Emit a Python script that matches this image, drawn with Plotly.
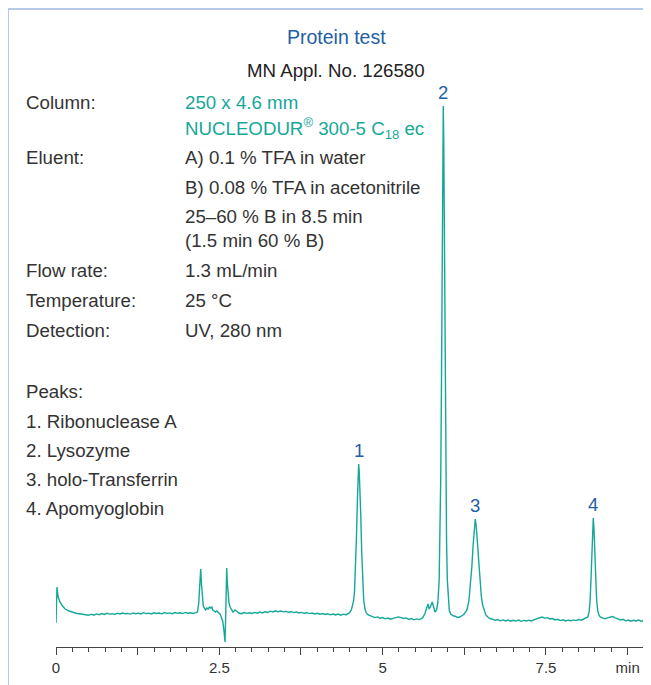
import plotly.graph_objects as go

# ------------------------------------------------------------------ data
title_text = "Protein test"
subtitle_text = "MN Appl. No. 126580"

param_labels = ["Column:", "Eluent:", "Flow rate:", "Temperature:", "Detection:"]
column_lines = ["250 x 4.6 mm", "NUCLEODUR<sup>®</sup> 300-5 C<sub>18</sub> ec"]
eluent_lines = ["A) 0.1 % TFA in water", "B) 0.08 % TFA in acetonitrile",
                "25–60 % B in 8.5 min", "(1.5 min 60 % B)"]
flow_rate = "1.3 mL/min"
temperature = "25 °C"
detection = "UV, 280 nm"

peaks_heading = "Peaks:"
peak_numbers = ["1", "2", "3", "4"]
peak_names = ["Ribonuclease A", "Lysozyme", "holo-Transferrin", "Apomyoglobin"]
peak_times = [4.633, 5.928, 6.418, 8.224]      # min
peak_heights = [151, 509, 96, 97]              # signal units

tick_values = [0, 1.25, 2.5, 3.75, 5, 6.25, 7.5, 8.75]
tick_labels = ["0", "", "2.5", "", "5", "", "7.5", "min"]

# chromatogram (time in min, signal in arbitrary units)
trace_start = [(0.000, -8), (0.006, 12), (0.015, 28), (0.03, 19), (0.06, 13),
               (0.10, 9), (0.14, 6), (0.20, 4), (0.26, 2.5), (0.32, 1.5),
               (0.38, 1.0), (0.44, 0.2), (0.50, -0.3)]
baseline_early = [(0.54, 0.8), (0.58, -0.2), (0.62, 1.1), (0.66, 0.3), (0.70, 1.4),
                  (0.74, 0.6), (0.78, 1.7), (0.82, 0.9), (0.86, 1.3), (0.90, 0.5),
                  (0.94, 1.8), (0.98, 1.0), (1.02, 2.0), (1.06, 1.2), (1.10, 1.6),
                  (1.14, 0.9), (1.18, 2.1), (1.22, 1.3), (1.26, 1.9), (1.30, 1.1),
                  (1.34, 2.3), (1.38, 1.4), (1.42, 1.8), (1.46, 1.0), (1.50, 2.2),
                  (1.54, 1.5), (1.58, 2.0), (1.62, 1.2), (1.66, 2.4), (1.70, 1.6),
                  (1.74, 2.1), (1.78, 1.3), (1.82, 2.5), (1.86, 1.7), (1.90, 2.2),
                  (1.94, 1.4), (1.98, 2.6), (2.02, 1.8), (2.06, 2.3), (2.10, 1.6),
                  (2.14, 2.4)]
void_spikes = [(2.166, 3), (2.185, 12), (2.20, 32), (2.215, 46), (2.228, 30),
               (2.24, 15), (2.255, 9), (2.27, 7), (2.29, 5), (2.31, 7), (2.33, 6),
               (2.35, 8), (2.37, 7), (2.385, 8), (2.40, 5), (2.42, 4), (2.44, 3),
               (2.46, 4), (2.49, 2), (2.51, 1), (2.53, -2), (2.552, -6), (2.57, -15),
               (2.587, -27), (2.598, 0), (2.605, 25), (2.613, 47), (2.623, 32),
               (2.635, 18), (2.648, 12), (2.665, 8), (2.686, 6), (2.71, 3),
               (2.74, 5), (2.77, 3)]
baseline_mid = [(2.80, 2.0), (2.84, 1.3), (2.88, 2.4), (2.92, 1.6), (2.96, 2.2),
                (3.00, 1.5), (3.04, 2.6), (3.08, 1.8), (3.12, 2.9), (3.16, 2.1),
                (3.20, 3.2), (3.24, 2.5), (3.28, 3.8), (3.32, 3.0), (3.36, 4.2),
                (3.40, 3.3), (3.44, 4.0), (3.48, 3.1), (3.52, 3.6), (3.56, 2.7),
                (3.60, 3.3), (3.64, 2.4), (3.68, 3.0), (3.72, 2.0), (3.76, 2.6),
                (3.80, 1.7), (3.84, 2.3), (3.88, 1.4), (3.92, 2.0), (3.96, 1.1),
                (4.00, 1.7), (4.04, 0.8), (4.08, 1.4), (4.12, 0.5), (4.16, 1.2),
                (4.20, 0.2), (4.24, 1.0), (4.28, 0.0), (4.32, 0.9), (4.36, -0.2),
                (4.40, 0.8), (4.44, 0.3), (4.48, 1.5)]
peak1_pts = [(4.50, 3), (4.52, 5), (4.54, 10), (4.555, 14), (4.57, 24), (4.585, 45),
             (4.60, 80), (4.615, 118), (4.625, 142), (4.633, 151), (4.642, 143),
             (4.652, 128), (4.665, 100), (4.68, 62), (4.695, 32), (4.71, 15),
             (4.73, 6), (4.75, 2), (4.78, 0), (4.81, -1)]
baseline_after1 = [(4.84, -1.5), (4.88, -2.6), (4.92, -1.9), (4.96, -3.2), (5.00, -2.5),
                   (5.04, -3.8), (5.08, -3.0), (5.12, -4.2), (5.16, -3.3), (5.20, -2.8),
                   (5.24, -1.9), (5.28, -2.6), (5.32, -3.5), (5.36, -2.9), (5.40, -4.4),
                   (5.44, -3.6), (5.48, -4.8), (5.52, -3.9), (5.56, -4.6), (5.60, -3.5)]
peak2_pts = [(5.62, -2), (5.65, 2), (5.675, 8), (5.694, 11), (5.712, 6), (5.73, 8),
             (5.76, 13), (5.78, 8), (5.80, 3), (5.825, 5), (5.845, 12), (5.865, 35),
             (5.88, 80), (5.89, 140), (5.90, 230), (5.91, 340), (5.92, 460),
             (5.928, 509), (5.936, 470), (5.946, 370), (5.956, 250), (5.966, 150),
             (5.978, 75), (5.99, 35), (6.005, 15), (6.02, 5), (6.04, 1)]
baseline_after2 = [(6.06, 0), (6.09, -1), (6.12, -1.5), (6.15, -2.5), (6.18, -2),
                   (6.21, -1), (6.24, 0.5)]
peak3_pts = [(6.27, 3), (6.29, 5), (6.32, 14), (6.345, 30), (6.365, 48), (6.385, 70),
             (6.405, 90), (6.418, 96), (6.432, 89), (6.45, 72), (6.47, 52),
             (6.49, 33), (6.51, 19), (6.53, 10), (6.555, 4), (6.58, 0), (6.61, -2),
             (6.64, -3.5)]
baseline_late = [(6.68, -4.2), (6.72, -5.3), (6.76, -4.6), (6.80, -5.8), (6.84, -4.9),
                 (6.88, -6.0), (6.92, -5.1), (6.96, -6.2), (7.00, -5.3), (7.04, -6.1),
                 (7.08, -5.0), (7.12, -6.3), (7.16, -5.4), (7.20, -6.0), (7.24, -5.2),
                 (7.28, -5.9), (7.32, -4.6), (7.36, -3.8), (7.40, -2.6), (7.44, -2.0),
                 (7.48, -3.1), (7.52, -2.7), (7.56, -4.0), (7.60, -3.6), (7.64, -4.9),
                 (7.68, -4.3), (7.72, -5.6), (7.76, -4.8), (7.80, -6.0), (7.84, -5.2),
                 (7.88, -5.8), (7.92, -4.9), (7.96, -5.6), (8.00, -4.6), (8.04, -5.2),
                 (8.08, -4.0), (8.12, -3.2)]
peak4_pts = [(8.14, -2), (8.16, 3), (8.175, 14), (8.19, 37), (8.205, 67), (8.215, 88),
             (8.224, 97), (8.234, 87), (8.246, 64), (8.26, 37), (8.275, 16),
             (8.29, 5), (8.31, 0), (8.33, -2), (8.36, -3)]
baseline_end = [(8.40, -3.8), (8.44, -2.9), (8.48, -2.0), (8.52, -1.6), (8.56, -2.8),
                (8.60, -3.9), (8.64, -5.0), (8.68, -4.3), (8.72, -5.8), (8.76, -5.0),
                (8.80, -6.2), (8.84, -5.3), (8.88, -6.0), (8.92, -5.1), (8.96, -6.4),
                (9.00, -5.5), (9.04, -6.6), (9.08, -5.8), (9.11, -6.2)]

segments = [trace_start, baseline_early, void_spikes, baseline_mid, peak1_pts,
            baseline_after1, peak2_pts, baseline_after2, peak3_pts, baseline_late,
            peak4_pts, baseline_end]
points = [p for seg in segments for p in seg]
time_min = [p[0] for p in points]
signal = [p[1] for p in points]

# ------------------------------------------------------------------ style
# page body has an 8px margin, so figure coords = screen coords - 8
OFF = 8
W, H = 651 - OFF, 685 - OFF
AXIS_X0, AXIS_Y = 56, 647          # screen px of t=0 and of the axis line
ML = AXIS_X0 - OFF
MB = H - (AXIS_Y - OFF)
MT, MR = 2, 0
PW, PH = W - ML - MR, H - MT - MB
PX_PER_MIN = 65.33
FONT = "Liberation Sans, Arial, sans-serif"
TEXT = "#333333"
TEAL = "#15a898"
BLUE = "#235ea3"
FRAME = "#b3cbe6"


def px(x):
    """screen x -> paper x"""
    return (x - OFF - ML) / PW


def py(y):
    """screen y -> paper y"""
    return (H - MB - (y - OFF)) / PH


fig = go.Figure()
fig.add_trace(go.Scatter(x=time_min, y=signal, mode="lines",
                         line=dict(color=TEAL, width=1.4), hoverinfo="skip"))

ann = []


def txt(x, y, s, color=TEXT, size=18.7, anchor="left"):
    ann.append(dict(x=px(x), y=py(y), xref="paper", yref="paper", text=s,
                    showarrow=False, xanchor=anchor, yanchor="middle",
                    font=dict(family=FONT, size=size, color=color)))


txt(336, 37, title_text, BLUE, 19.5, "center")
txt(336, 71, subtitle_text, "#222222", 18.7, "center")

label_y = [103, 158, 270, 300, 330]
for lab, yy in zip(param_labels, label_y):
    txt(24, yy, lab)
for s, yy in zip(column_lines, [103, 128]):
    txt(183, yy, s, TEAL)
for s, yy in zip(eluent_lines, [158, 187, 216, 240]):
    txt(183, yy, s)
txt(183, 270, flow_rate)
txt(183, 300, temperature)
txt(183, 330, detection)

txt(24, 391, peaks_heading)
for i, (num, name) in enumerate(zip(peak_numbers, peak_names)):
    txt(24, 421 + i * 29.2, f"{num}. {name}")

for num, t, h in zip(peak_numbers, peak_times, peak_heights):
    ann.append(dict(x=t, y=h, xref="x", yref="y", text=num, showarrow=False,
                    xanchor="center", yanchor="middle", yshift=14,
                    font=dict(family=FONT, size=18.5, color=BLUE)))

shapes = [
    dict(type="line", xref="paper", yref="paper", x0=px(8), x1=px(8),
         y0=py(700), y1=py(9), line=dict(color=FRAME, width=2)),
    dict(type="line", xref="paper", yref="paper", x0=px(7), x1=px(700),
         y0=py(9), y1=py(9), line=dict(color=FRAME, width=2)),
]

fig.update_layout(
    width=W, height=H,
    margin=dict(l=ML, r=MR, t=MT, b=MB),
    paper_bgcolor="white", plot_bgcolor="white",
    showlegend=False,
    annotations=ann, shapes=shapes,
    xaxis=dict(range=[0, PW / PX_PER_MIN], showgrid=False, zeroline=False,
               showline=True, linecolor="#444444", linewidth=1,
               tickmode="array", tickvals=tick_values, ticktext=tick_labels,
               ticks="outside", ticklen=7, tickwidth=1, tickcolor="#444444",
               tickfont=dict(family=FONT, size=15, color=TEXT),
               minor=dict(tickmode="linear", tick0=0, dtick=0.25, ticks="outside",
                          ticklen=4, tickwidth=1, tickcolor="#444444"),
               fixedrange=True),
    yaxis=dict(range=[-32, 605], visible=False, fixedrange=True),
)

fig.write_html("out.html")
